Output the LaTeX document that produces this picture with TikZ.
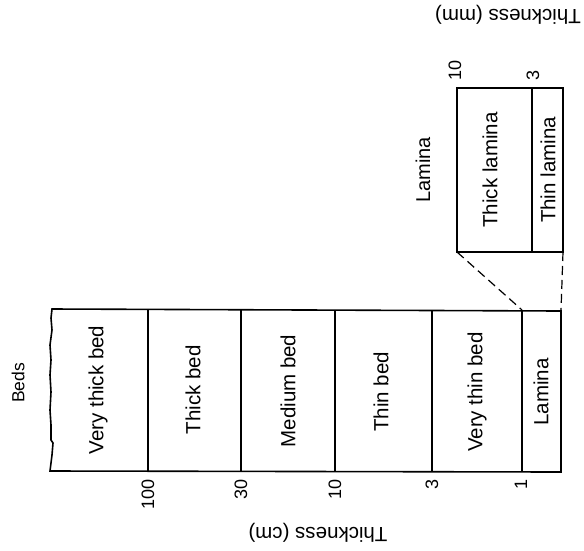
\documentclass[tikz,border=0pt]{standalone}
\usepackage{fontspec}
\setmainfont{Liberation Sans}
\begin{document}
\begin{tikzpicture}[x=1pt,y=-1pt,
  boxline/.style={line width=1.6pt},
  divline/.style={line width=1.2pt},
  dashline/.style={line width=1.2pt,dash pattern=on 9pt off 5pt},
  boxlabel/.style={rotate=90,inner sep=0pt,font=\fontsize{20.5}{21}\selectfont},
  ticklabel/.style={rotate=90,inner sep=0pt,font=\fontsize{18}{19}\selectfont},
  axistitle/.style={rotate=180,inner sep=0pt,font=\fontsize{20.5}{21}\selectfont},
  grouptitle/.style={rotate=90,inner sep=0pt,font=\fontsize{17.5}{18}\selectfont}]
\useasboundingbox (0,0) rectangle (584,550);
% main beds box
\coordinate (bTL) at (52,309);
\coordinate (bBL) at (50,471);
\coordinate (bTR) at (561,311);
\coordinate (bBR) at (561,472);
\draw[boxline] (bTR) -- (bTL) -- (51,318) -- (52,330) -- (50,345) -- (51,360) -- (50,375) -- (51,392) -- (50,410) -- (51,425) -- (51,440) -- (53,443) -- (52,455) -- (bBL) -- (bBR) -- cycle;
\foreach \x in {148,241,335,432,522}{
  \draw[divline] (\x,310) -- (\x,471);
}
% box labels
\node[boxlabel] (vtb) at (98,390) {Very thick bed};
\node[boxlabel] (tb) at (193,390) {Thick bed};
\node[boxlabel] (mb) at (288,391) {Medium bed};
\node[boxlabel] (thb) at (381,392) {Thin bed};
\node[boxlabel] (vthb) at (477,392) {Very thin bed};
\node[boxlabel] (lam) at (541,392) {Lamina};
% tick labels
\node[ticklabel,anchor=east] (t100) at (148,479) {100};
\node[ticklabel,anchor=east] (t30) at (241,479) {30};
\node[ticklabel,anchor=east] (t10) at (335,479) {10};
\node[ticklabel,anchor=east] (t3) at (432,479) {3};
\node[ticklabel,anchor=east] (t1) at (521,479) {1};
\node[axistitle] (cm) at (318,533) {Thickness (cm)};
\node[grouptitle] (beds) at (18,383) {Beds};
% lamina box
\coordinate (lTL) at (457,88);
\coordinate (lBR) at (563,252);
\coordinate (lBL) at (457,252);
\draw[boxline] (lTL) rectangle (lBR);
\draw[divline] (532,88) -- (532,252);
\node[boxlabel] (thl) at (490,170) {Thick lamina};
\node[boxlabel] (tnl) at (548,170) {Thin lamina};
\node[grouptitle,font=\fontsize{20}{21}\selectfont] (lamt) at (423,170) {Lamina};
\node[ticklabel,anchor=west] (m10) at (455,81) {10};
\node[ticklabel,anchor=west] (m3) at (533,81) {3};
\node[axistitle] (mm) at (508,15) {Thickness (mm)};
% dashed connectors
\coordinate (d5top) at (522,310);
\draw[dashline] (lBL) -- (d5top);
\draw[dashline] (lBR) -- (bTR);
\end{tikzpicture}
\end{document}
